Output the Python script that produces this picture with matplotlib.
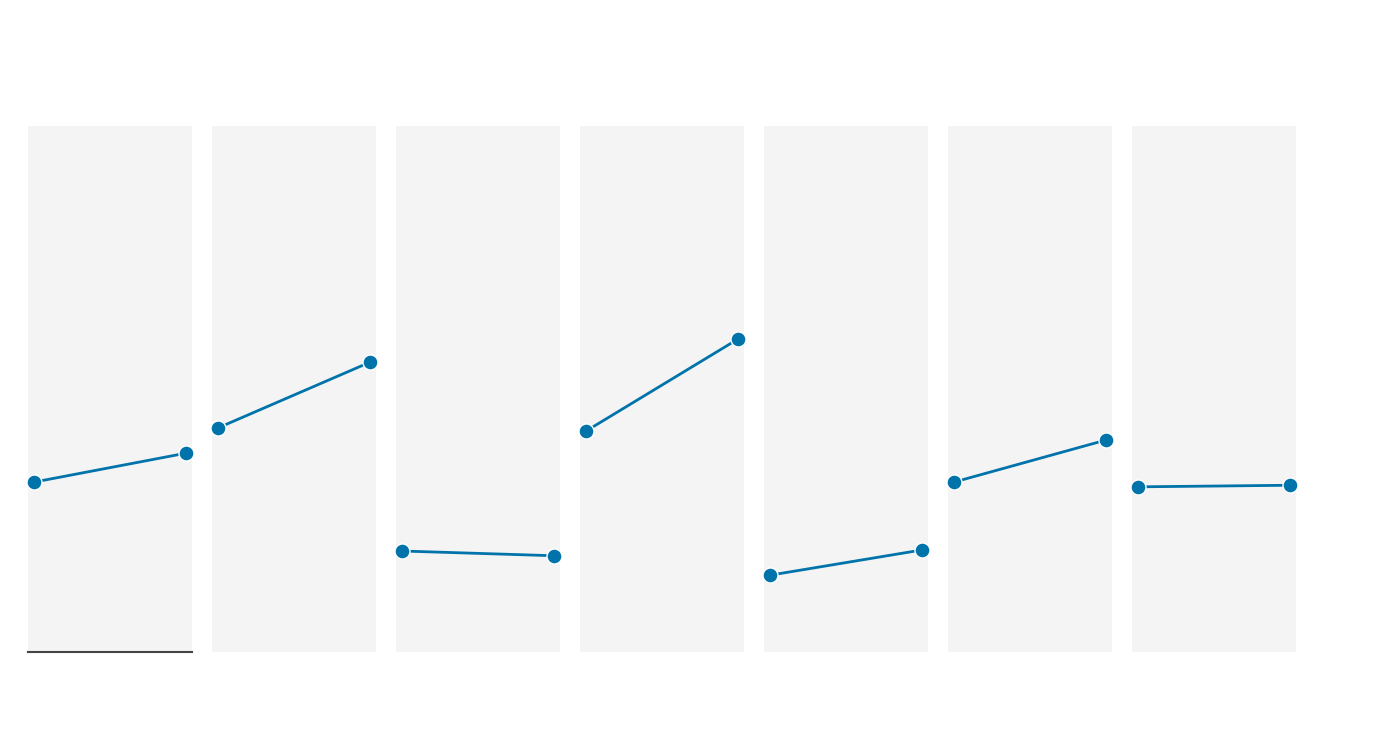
import matplotlib.pyplot as plt

# start / end values for each of the seven panels
start_vals = [32.3, 42.6, 19.2, 42.0, 14.6, 32.3, 31.4]
end_vals = [37.8, 55.1, 18.3, 59.5, 19.4, 40.3, 31.7]
x_pos = [0, 1]

blue = '#0073aa'
W, H = 1400, 740

fig = plt.figure(figsize=(14, 7.4), dpi=100)

for i, (a, b) in enumerate(zip(start_vals, end_vals)):
    left = 28 + i * 184
    ax = fig.add_axes([left / W, (H - 652) / H, 164 / W, 526 / H])
    ax.set_facecolor('#f4f4f4')
    ax.plot(x_pos, [a, b], color=blue, linewidth=2.0, marker='o',
            markersize=10.8, markeredgecolor='white', markeredgewidth=1.0,
            solid_capstyle='round', zorder=3, clip_on=False)
    pad = 6 / 152
    ax.set_xlim(-pad, 1 + pad)
    ax.set_ylim(0, 100)
    ax.set_xticks([])
    ax.set_yticks([])
    for s in ax.spines.values():
        s.set_visible(False)
    if i == 0:
        ax.spines['bottom'].set_visible(True)
        ax.spines['bottom'].set_color('#444444')
        ax.spines['bottom'].set_linewidth(1.5)

fig.savefig('out.png', dpi=100)
